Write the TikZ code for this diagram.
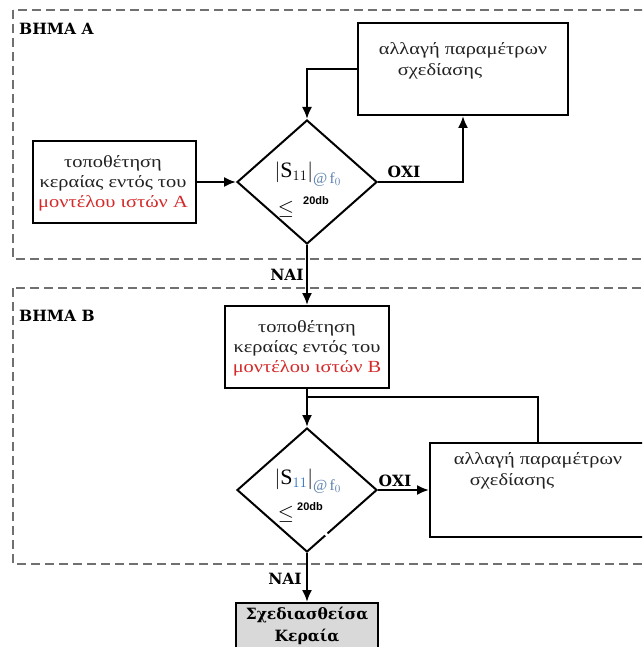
\documentclass[tikz,border=0pt]{standalone}
\usepackage{fontspec}
\setmainfont{Liberation Serif}
\newfontfamily\bodyfont{Liberation Serif}[FakeStretch=1.2]
\newfontfamily\labfont{DejaVu Serif}
\newfontfamily\dbfont{Liberation Sans}
\usetikzlibrary{arrows.meta,shapes.geometric}
\definecolor{redtxt}{HTML}{D42A2A}
\definecolor{dashgray}{HTML}{707070}
\definecolor{subblue}{HTML}{5A80B0}
\definecolor{elevblue}{HTML}{2A6FC0}
\definecolor{finalfill}{HTML}{D9D9D9}
\definecolor{bodytxt}{HTML}{222222}
\begin{document}
\begin{tikzpicture}[x=1pt,y=-1pt,
  stepframe/.style={draw=dashgray, line width=1.4pt, dash pattern=on 9pt off 5pt},
  procbox/.style={draw, line width=2pt, inner sep=0pt},
  txt/.style={align=center, inner sep=0pt, text=bodytxt, font=\bodyfont\fontsize{17}{20}\selectfont},
  decision/.style={draw, diamond, line width=2pt, minimum width=140pt, minimum height=124pt, inner sep=0pt},
  flow/.style={line width=2pt, -{Latex[length=12pt,width=10pt]}},
  plain/.style={line width=2pt},
  lab/.style={inner sep=0pt, font=\labfont\bfseries\fontsize{15.5}{18}\selectfont},
  cond/.style={inner sep=0pt, font=\fontsize{22}{22}\selectfont},
  dbl/.style={inner sep=0pt, font=\dbfont\bfseries\fontsize{11}{11}\selectfont}]
\useasboundingbox (0,0) rectangle (642,647);
\clip (0,0) rectangle (642,647);
% frames
\draw[stepframe] (13,10) rectangle (660,259);
\draw[stepframe] (13,288) rectangle (660,564);
\node[lab, anchor=west] (stepA) at (19,29) {ΒΗΜΑ Α};
\node[lab, anchor=west] (stepB) at (19,316) {ΒΗΜΑ Β};
% step A
\node[procbox, minimum width=163pt, minimum height=82pt] (placeA) at (114.5,182) {};
\node[txt] (placeAtxt) at (113,183) {τοποθέτηση\\κεραίας εντός του\\\textcolor{redtxt}{μοντέλου ιστών Α}};
\node[procbox, minimum width=210pt, minimum height=92pt] (chgA) at (463,69) {};
\node[txt] (chgAl1) at (463,50) {αλλαγή παραμέτρων};
\node[txt] (chgAl2) at (440,71) {σχεδίασης};
\node[decision] (decA) at (307,182) {};
\node[cond] (condA) at (308,174) {$\left|\mathrm{S}_{11}\right|_{\textcolor{subblue}{@\,\mathrm{f}_0}}$};
\node[cond] (leA) at (286,209) {$\leq$};
\node[dbl] (dbA) at (316,201) {20db};
% step B
\node[procbox, minimum width=164pt, minimum height=82pt] (placeB) at (307,347) {};
\node[txt] (placeBtxt) at (307,348) {τοποθέτηση\\κεραίας εντός του\\\textcolor{redtxt}{μοντέλου ιστών Β}};
\node[decision] (decB) at (307,490) {};
\node[cond] (condB) at (308,481) {$\left|\mathrm{S}_{\textcolor{elevblue}{11}}\right|_{\textcolor{subblue}{@\,\mathrm{f}_0}}$};
\node[cond] (leB) at (286,514) {$\leq$};
\node[dbl] (dbB) at (310,507) {20db};
\node[procbox, minimum width=216pt, minimum height=94pt] (chgB) at (538,490) {};
\node[txt] (chgBl1) at (538,460) {αλλαγή παραμέτρων};
\node[txt] (chgBl2) at (512,481) {σχεδίασης};
\node[procbox, fill=finalfill, minimum width=142pt, minimum height=49pt] (final) at (307,627.5) {};
\node[lab, align=center, font=\labfont\bfseries\fontsize{15.5}{22}\selectfont] (finaltxt) at (307,626) {Σχεδιασθείσα\\Κεραία};
\coordinate (joinB) at (307,397);
% connectors
\draw[flow] (placeA.east) -- (decA.west);
\draw[flow] (chgA.west) -| (decA.north);
\draw[flow] (decA.east) -| (chgA.south);
\draw[flow] (decA.south) -- (placeB.north);
\draw[flow] (placeB.south) -- (decB.north);
\draw[plain] (chgB.north) |- (joinB);
\draw[flow] (decB.east) -- (chgB.west);
\draw[flow] (decB.south) -- (final.north);
% labels
\node[lab] (noA) at (404,172) {ΟΧΙ};
\node[lab] (noB) at (395,481) {ΟΧΙ};
\node[lab] (yesA) at (287,275) {ΝΑΙ};
\node[lab] (yesB) at (285,579) {ΝΑΙ};
% small gap in lower edge of second diamond
\draw[white, line width=2.8pt] (324.5,532.8) -- (328.5,536.4);
\end{tikzpicture}
\end{document}
